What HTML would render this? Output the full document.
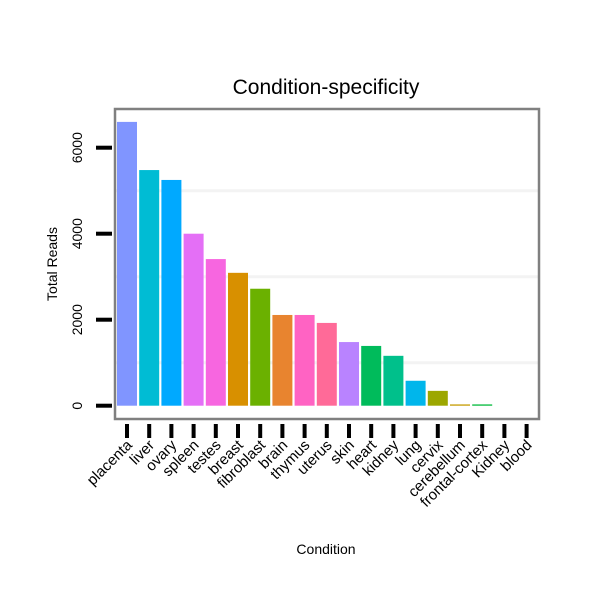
<!DOCTYPE html>
<html><head><meta charset="utf-8"><style>
body{margin:0;background:#fff;}
svg{display:block;font-family:"Liberation Sans",Arial,sans-serif;}
</style></head><body>
<svg id="chart" width="600" height="600">
<rect x="0" y="0" width="600" height="600" fill="#fff"/>
<text x="326" y="94" font-size="21" text-anchor="middle">Condition-specificity</text>
<text x="326" y="554" font-size="14" text-anchor="middle">Condition</text>
<text transform="translate(57,264) rotate(-90)" font-size="14" text-anchor="middle">Total Reads</text>
<g id="grid"></g><g id="bars"></g><g id="axes"></g>
<rect x="115" y="109" width="424" height="310" fill="none" stroke="#808080" stroke-width="2.5"/>
</svg>
<script>
const categories=["placenta","liver","ovary","spleen","testes","breast","fibroblast","brain","thymus","uterus","skin","heart","kidney","lung","cervix","cerebellum","frontal-cortex","Kidney","blood"];
const values=[6600,5480,5250,4000,3410,3090,2720,2110,2110,1925,1480,1390,1160,580,345,30,30,0,0];
const colors=["#8095ff","#00bcd4","#00a9ff","#e46ff6","#f766e0","#d89000","#6bb100","#e8842f","#ff63c3","#ff6a98","#b983ff","#00bb5b","#00c08b","#00b6eb","#9ca700","#c49a00","#00ba38","#e76bf3","#f8766d"];
const yTicks=[0,2000,4000,6000];
const yGrid=[1000,3000,5000];
const NS="http://www.w3.org/2000/svg";
function y(v){return 405.7-v*0.043;}
function x(i){return 127+i*22.2;}
function mk(t,a,p){const e=document.createElementNS(NS,t);for(const k in a)e.setAttribute(k,a[k]);document.getElementById(p).appendChild(e);return e;}
yGrid.forEach(v=>{const l=mk("line",{x1:116,x2:538,y1:y(v),y2:y(v),stroke:"#f3f3f3","stroke-width":3},"grid");

});
values.forEach((v,i)=>{const r=mk("rect",{x:x(i)-10,y:y(v),width:20,height:Math.max(0,405.7-y(v)),fill:colors[i]},"bars");


const t=mk("line",{x1:x(i),x2:x(i),y1:424,y2:438,stroke:"#000","stroke-width":4},"axes");


const lb=mk("text",{transform:`translate(${x(i)+6},446) rotate(-45)`,"font-size":15,"text-anchor":"end"},"axes");lb.textContent=categories[i];

});
yTicks.forEach(v=>{const t=mk("line",{x1:96,x2:112,y1:y(v),y2:y(v),stroke:"#000","stroke-width":4},"axes");


const lb=mk("text",{transform:`translate(82,${y(v)}) rotate(-90)`,"font-size":14,"text-anchor":"middle"},"axes");lb.textContent=v;

});
</script>
</body></html>
